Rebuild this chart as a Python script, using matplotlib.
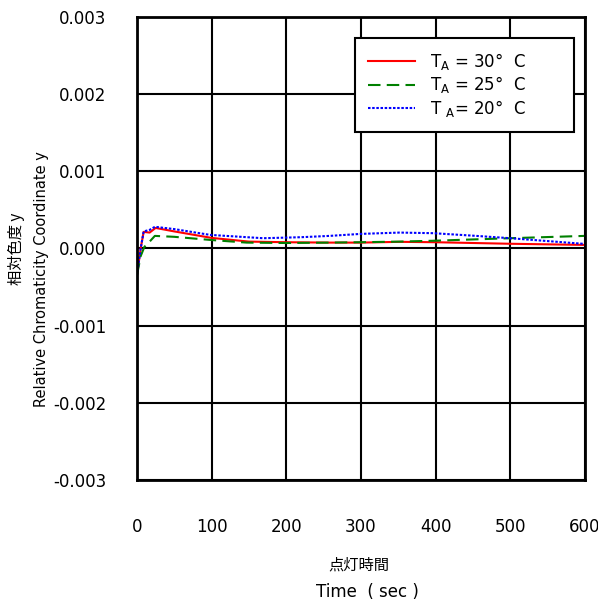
import matplotlib.pyplot as plt

plt.rcParams['font.family'] = ['DejaVu Sans', 'Noto Sans CJK JP']

# values
t30 = [0, 5, 9, 17, 25, 50, 100, 150, 200, 258, 300, 352, 400, 500, 600]
y30 = [-0.00035, 0.0, 0.000214, 0.000205, 0.000265, 0.00022, 0.000136, 0.000088,
       0.00008, 0.000075, 0.000075, 0.000085, 0.00008, 0.00006, 0.000045]

t25 = [0, 5, 10, 17, 24, 50, 98, 147, 200, 258, 300, 352, 400, 500, 600]
y25 = [-0.00035, -0.0001, 0.00002, 0.000088, 0.000162, 0.00015, 0.00011, 0.000075,
       0.00007, 0.000075, 0.00008, 0.000088, 0.0001, 0.000132, 0.000162]

t20 = [0, 5, 9, 17, 24, 50, 98, 169, 220, 258, 300, 352, 397, 450, 500, 600]
y20 = [-0.00035, 0.0, 0.00022, 0.00024, 0.00028, 0.00025, 0.000175, 0.000132,
       0.000145, 0.000162, 0.000188, 0.000205, 0.000197, 0.000165, 0.000132, 0.000058]

labels = ['T$_{\\rm A}$ = 30°  C', 'T$_{\\rm A}$ = 25°  C', 'T $_{\\rm A}$= 20°  C']
xticks = [0, 100, 200, 300, 400, 500, 600]
yticks = [-0.003, -0.002, -0.001, 0.0, 0.001, 0.002, 0.003]

fig = plt.figure(figsize=(5.98, 6), dpi=100)
ax = fig.add_axes([0.229, 0.2, 0.749, 0.772])

ax.plot(t30, y30, color='red', lw=1.5, label=labels[0])
ax.plot(t25, y25, color='green', lw=1.5, ls=(0, (6, 3)), label=labels[1])
ax.plot(t20, y20, color='blue', lw=1.5, ls=(0, (1.2, 0.8)), label=labels[2])

ax.set_xlim(0, 600)
ax.set_ylim(-0.003, 0.003)
ax.set_xticks(xticks)
ax.set_yticks(yticks)
ax.set_yticklabels(['%.3f' % v for v in yticks])
ax.grid(True, color='black', lw=1.5)
ax.tick_params(length=0, labelsize=12)
ax.tick_params(axis='y', pad=22)
ax.tick_params(axis='x', pad=27)
for s in ax.spines.values():
    s.set_linewidth(2)

leg = ax.legend(loc='upper right', bbox_to_anchor=(0.975, 0.955), fontsize=12,
                fancybox=False, edgecolor='black', framealpha=1,
                handlelength=2.8, handletextpad=0.9, borderpad=0.8,
                labelspacing=0.15, borderaxespad=0)
leg.get_frame().set_linewidth(1.5)
# widen the box on the right like the reference
for txt in leg.get_texts():
    txt.set_text(txt.get_text() + '\u2003\u2003\u2003')

fig.text(0.6, 0.058, '点灯時間', ha='center', va='center', fontsize=11,
         family=['Noto Sans CJK JP', 'DejaVu Sans'])
fig.text(0.615, 0.013, 'Time  ( sec )', ha='center', va='center', fontsize=12)
fig.text(0.028, 0.585, '相対色度 y', rotation=90, ha='center', va='center',
         fontsize=11, family=['Noto Sans CJK JP', 'DejaVu Sans'])
fig.text(0.07, 0.535, 'Relative Chromaticity Coordinate y', rotation=90,
         ha='center', va='center', fontsize=10.5)

fig.savefig('out.png')
